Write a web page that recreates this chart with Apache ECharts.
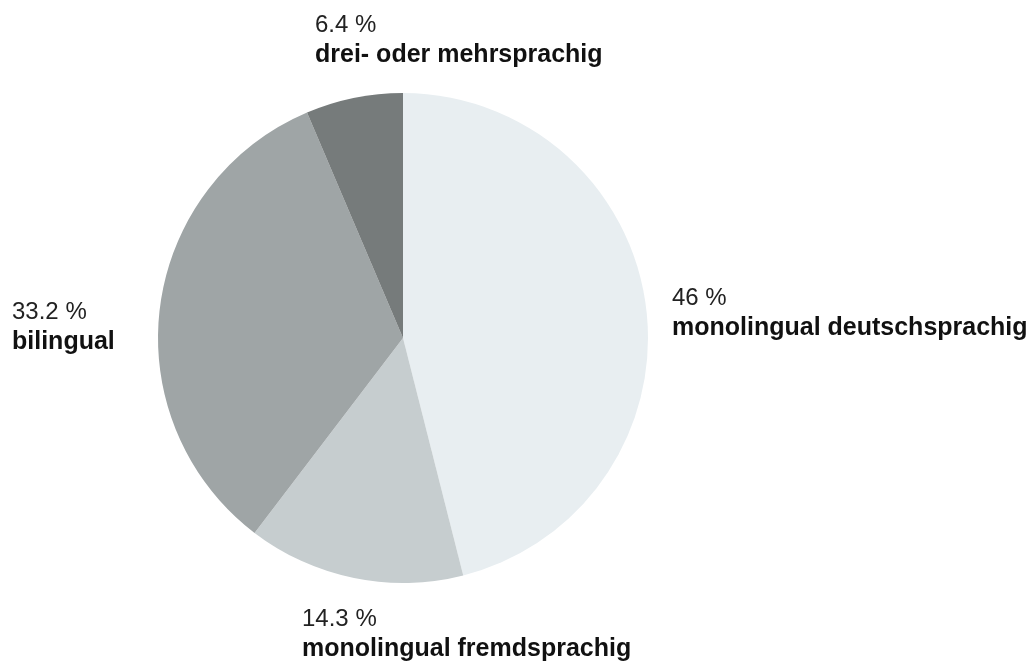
<!DOCTYPE html>
<html>
<head>
<meta charset="utf-8">
<script src="https://cdn.jsdelivr.net/npm/echarts@6/dist/echarts.min.js"></script>
<style>
  html, body { margin: 0; padding: 0; background: #fff; }
  #chart { width: 1030px; height: 661px; }
</style>
</head>
<body>
<div id="chart"></div>
<script>
const categories = ['monolingual deutschsprachig', 'monolingual fremdsprachig', 'bilingual', 'drei- oder mehrsprachig'];
const shares = [46, 14.3, 33.2, 6.4];
const colors = ['#e8eef1', '#c6cdcf', '#9fa5a6', '#767b7b'];

// where each label block starts (top-left corner), in px
const labelSpots = [[672, 283], [302, 604], [12, 297], [315, 10]];

const chart = echarts.init(document.getElementById('chart'));

chart.setOption({
  animation: false,
  series: [{
    type: 'pie',
    center: [403, 338],
    radius: [0, 245],
    startAngle: 90,
    clockwise: true,
    data: categories.map((name, i) => ({
      name: name,
      value: shares[i],
      itemStyle: { color: colors[i] }
    })),
    label: {
      show: true,
      position: 'outside',
      overflow: 'none',
      formatter: p => '{v|' + p.value + ' %}\n{n|' + p.name + '}',
      rich: {
        v: { fontFamily: 'Liberation Sans', fontSize: 24, color: '#222', lineHeight: 30, align: 'left' },
        n: { fontFamily: 'Liberation Sans', fontSize: 25, fontWeight: 'bold', color: '#111', lineHeight: 30, align: 'left' }
      }
    },
    labelLine: { show: false },
    labelLayout: p => ({
      x: labelSpots[p.dataIndex][0],
      y: labelSpots[p.dataIndex][1],
      align: 'left',
      verticalAlign: 'top'
    }),
    emphasis: { disabled: true }
  }]
});
</script>
</body>
</html>
